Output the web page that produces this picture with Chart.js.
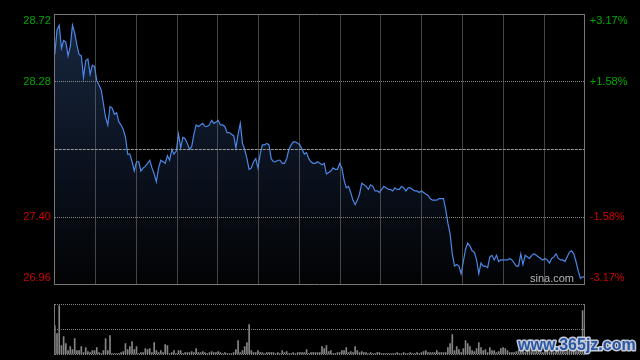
<!DOCTYPE html>
<html>
<head>
<meta charset="utf-8">
<script src="https://cdn.jsdelivr.net/npm/chart.js@4.4.1/dist/chart.umd.min.js"></script>
<style>
html,body{margin:0;padding:0;background:#000;width:640px;height:360px;overflow:hidden}
#wrap{position:relative;width:640px;height:360px}
canvas{position:absolute;left:0;top:0}
</style>
</head>
<body>
<div id="wrap">
<canvas id="price" width="640" height="360"></canvas>
<canvas id="vol" width="640" height="360"></canvas>
</div>
<script>
// ---- data ----
const prevClose = 27.84;
const priceTicks = [26.96, 27.40, 27.84, 28.28, 28.72];
const leftTickLabels = ['26.96', '27.40', '', '28.28', '28.72'];
const rightTickLabels = ['-3.17%', '-1.58%', '', '+1.58%', '+3.17%'];
const volumeTicks = [0, 2500, 5000];

const prices = [
  28.46, 28.62, 28.65, 28.50, 28.55, 28.54, 28.45, 28.51, 28.65, 28.60,
  28.52, 28.46, 28.45, 28.31, 28.42, 28.43, 28.33, 28.39, 28.38, 28.29,
  28.26, 28.23, 28.14, 28.05, 28.00, 28.12, 28.11, 28.07, 28.08, 28.02,
  28.00, 27.97, 27.92, 27.81, 27.81, 27.76, 27.70, 27.76, 27.76, 27.70,
  27.72, 27.73, 27.75, 27.77, 27.72, 27.68, 27.63, 27.72, 27.77, 27.76,
  27.75, 27.80, 27.77, 27.84, 27.81, 27.83, 27.94, 27.85, 27.92, 27.91,
  27.88, 27.84, 27.86, 27.94,
  28.00, 27.99, 28.00, 28.01, 27.99, 27.99,
  28.00, 28.03, 28.01, 28.02, 28.03, 28.00, 28.00, 27.99, 27.95, 27.95,
  27.94, 27.93, 27.85, 27.94, 28.01, 27.88, 27.84, 27.78, 27.71, 27.72,
  27.76, 27.78, 27.72, 27.81, 27.87, 27.87, 27.88, 27.87, 27.78, 27.76,
  27.76, 27.77, 27.77, 27.75, 27.75, 27.78, 27.84, 27.87, 27.89, 27.89,
  27.88, 27.87, 27.84, 27.81, 27.82, 27.78, 27.76, 27.75, 27.75, 27.76,
  27.75, 27.74, 27.75, 27.68, 27.69, 27.70, 27.72, 27.71, 27.71, 27.75,
  27.72, 27.64, 27.59, 27.60, 27.56, 27.51, 27.48, 27.51, 27.55, 27.62,
  27.61, 27.60, 27.58, 27.61, 27.60, 27.57, 27.57, 27.56, 27.58, 27.60,
  27.59, 27.58, 27.58, 27.57, 27.59, 27.58, 27.58, 27.60, 27.59, 27.57,
  27.59, 27.59, 27.58, 27.57, 27.57, 27.56, 27.57, 27.56, 27.55, 27.54,
  27.52, 27.51, 27.51, 27.51, 27.52, 27.52, 27.52, 27.45, 27.36, 27.29,
  27.16, 27.08, 27.09, 27.08, 27.03, 27.11, 27.19, 27.23, 27.21, 27.18,
  27.17, 27.12, 27.03, 27.10, 27.08, 27.08, 27.07, 27.14, 27.15, 27.12,
  27.15, 27.11, 27.12, 27.12, 27.12, 27.12, 27.13, 27.12, 27.10, 27.08,
  27.08, 27.16, 27.09, 27.15, 27.14, 27.13, 27.15, 27.16, 27.15, 27.14,
  27.13, 27.12, 27.13, 27.12, 27.10, 27.13, 27.14, 27.16, 27.13, 27.12,
  27.12, 27.11, 27.14, 27.17, 27.18, 27.16, 27.11, 27.05, 27.00, 27.01, 27.01
];

const volumes = [
  2900, 2100, 4900, 900, 1800, 1100, 400, 800, 500, 1600,
  400, 400, 800, 200, 700, 300, 200, 400, 400, 700,
  200, 100, 400, 1600, 400, 1900, 100, 100, 100, 100,
  200, 300, 1100, 500, 800, 1300, 500, 800, 100, 200,
  200, 600, 500, 600, 200, 1200, 400, 200, 400, 200,
  1000, 900, 100, 200, 400, 100, 400, 400, 100, 200,
  200, 200, 300, 200, 600, 200, 200, 300, 200, 100,
  200, 300, 200, 200, 300, 200, 100, 200, 100, 100,
  100, 200, 500, 1400, 200, 400, 800, 1200, 3000, 400,
  200, 200, 400, 200, 200, 100, 200, 200, 200, 200,
  100, 200, 100, 400, 200, 300, 100, 100, 200, 100,
  200, 200, 200, 200, 500, 100, 200, 200, 200, 200,
  200, 800, 600, 900, 300, 400, 100, 100, 200, 200,
  400, 400, 700, 200, 300, 200, 800, 400, 200, 300,
  200, 200, 100, 200, 100, 100, 200, 200, 100, 100,
  100, 100, 100, 100, 100, 200, 100, 100, 200, 100,
  100, 200, 100, 100, 200, 100, 200, 300, 400, 200,
  200, 200, 200, 400, 200, 200, 200, 200, 700, 1100,
  2000, 400, 800, 500, 200, 600, 1400, 1100, 800, 400,
  300, 600, 1200, 700, 400, 500, 200, 700, 400, 400,
  200, 300, 600, 700, 600, 400, 200, 200, 200, 300,
  400, 300, 500, 200, 400, 600, 300, 200, 500, 400,
  300, 200, 600, 400, 300, 500, 200, 300, 400, 700,
  300, 200, 500, 400, 300, 600, 800, 500, 900, 4400, 3100
];

const minutes = prices.map((_, i) => i);
const lastMinute = minutes.length - 1;
const xDivisions = 13;

// ---- styles ----
const FONT = { family: "'Liberation Sans', Arial, Helvetica, sans-serif", size: 11 };
const GREEN = '#00a800';
const RED = '#d00000';
const GRID = '#858585';
const MIDGRID = '#9a9a9a';
const BORDER = '#777777';
const CLEAR = 'rgba(0,0,0,0)';

const xGridTicks = s => { s.ticks = Array.from({ length: xDivisions + 1 }, (_, i) => ({ value: i * lastMinute / xDivisions })); };
const yPriceTicks = s => { s.ticks = priceTicks.map(v => ({ value: v })); };
const fixWidth = w => s => { s.width = w; s.paddingTop = 0; s.paddingBottom = 0; };
const fixHeight = s => { s.height = 0; s.paddingLeft = 0; s.paddingRight = 0; };

function leftLabel(v, i) {
  if (i === 0) return [leftTickLabels[0], ''];
  if (i === priceTicks.length - 1) return ['', leftTickLabels[i]];
  return leftTickLabels[i];
}
function rightLabel(v, i) {
  if (i === 0) return [rightTickLabels[0], ''];
  if (i === priceTicks.length - 1) return ['', rightTickLabels[i]];
  return rightTickLabels[i];
}
const tickColor = c => (c.tick && c.tick.value > prevClose ? GREEN : RED);

new Chart(document.getElementById('price'), {
  type: 'line',
  data: {
    datasets: [{
      data: minutes.map((m, i) => ({ x: m, y: prices[i] })),
      borderColor: '#4a87e6',
      borderWidth: 1.2,
      pointRadius: 0,
      tension: 0,
      fill: 'start',
      backgroundColor: c => {
        const a = c.chart.chartArea;
        if (!a) return CLEAR;
        const g = c.chart.ctx.createLinearGradient(0, a.top, 0, a.bottom);
        g.addColorStop(0, '#18273f');
        g.addColorStop(0.5, '#0c1422');
        g.addColorStop(1, '#020304');
        return g;
      }
    }]
  },
  options: {
    responsive: false,
    animation: false,
    devicePixelRatio: 1,
    layout: { padding: { top: 14.5, bottom: 75.5, left: 0, right: 0 } },
    plugins: { legend: { display: false }, tooltip: { enabled: false } },
    scales: {
      x: {
        type: 'linear', position: 'bottom', min: 0, max: lastMinute, offset: false,
        afterBuildTicks: xGridTicks,
        ticks: { display: false },
        grid: { z: 1, drawTicks: false, color: c => (c.index === 0 || c.index === xDivisions ? CLEAR : GRID) },
        border: { z: 1, display: true, color: BORDER, dash: [1, 1] },
        afterFit: fixHeight
      },
      xTop: {
        type: 'linear', position: 'top', min: 0, max: lastMinute, offset: false,
        ticks: { display: false },
        grid: { z: 1, display: false },
        border: { z: 1, display: true, color: BORDER },
        afterFit: fixHeight
      },
      y: {
        type: 'linear', position: 'left', min: priceTicks[0], max: priceTicks[priceTicks.length - 1],
        afterBuildTicks: yPriceTicks,
        ticks: { autoSkip: false, callback: leftLabel, color: tickColor, font: FONT, padding: 4 },
        grid: { z: 1, drawTicks: false, color: c => (c.index === 1 || c.index === 3 ? GRID : CLEAR) },
        border: { z: 1, display: true, color: BORDER, dash: [1, 1] },
        afterFit: fixWidth(54.8)
      },
      yRight: {
        type: 'linear', position: 'right', min: priceTicks[0], max: priceTicks[priceTicks.length - 1],
        afterBuildTicks: yPriceTicks,
        ticks: { autoSkip: false, callback: rightLabel, color: tickColor, font: FONT, padding: 5 },
        grid: { z: 1, drawTicks: false, color: c => (c.index === 2 ? MIDGRID : CLEAR) },
        border: { z: 1, display: true, color: BORDER, dash: [3, 1] },
        afterFit: fixWidth(55.2)
      }
    }
  }
});

const textPlugin = {
  id: 'marks',
  afterDraw(chart) {
    const ctx = chart.ctx;
    ctx.save();
    ctx.font = "11px 'Liberation Sans', Arial, sans-serif";
    ctx.fillStyle = '#b4b4b4';
    ctx.textAlign = 'right';
    ctx.textBaseline = 'alphabetic';
    ctx.fillText('sina.com', 574, 282);
    ctx.font = "bold 16px 'Liberation Sans', Arial, sans-serif";
    ctx.textAlign = 'left';
    ctx.lineJoin = 'round';
    ctx.lineWidth = 3;
    ctx.strokeStyle = 'rgba(215,222,235,0.9)';
    ctx.strokeText('www.365jz.com', 518, 350);
    ctx.fillStyle = '#2a56a6';
    ctx.fillText('www.365jz.com', 518, 350);
    ctx.restore();
  }
};

new Chart(document.getElementById('vol'), {
  type: 'bar',
  data: {
    datasets: [{
      data: minutes.map((m, i) => ({ x: m, y: volumes[i] })),
      backgroundColor: '#858585',
      borderWidth: 0,
      barThickness: 1,
      grouped: false
    }]
  },
  options: {
    responsive: false,
    animation: false,
    devicePixelRatio: 1,
    layout: { padding: { top: 304.5, bottom: 5.5, left: 0, right: 0 } },
    plugins: { legend: { display: false }, tooltip: { enabled: false } },
    scales: {
      x: {
        type: 'linear', position: 'bottom', min: 0, max: lastMinute, offset: false,
        ticks: { display: false },
        grid: { display: false, offset: false },
        border: { display: false },
        afterFit: fixHeight
      },
      y: {
        type: 'linear', position: 'left', min: volumeTicks[0], max: volumeTicks[volumeTicks.length - 1],
        afterBuildTicks: s => { s.ticks = volumeTicks.map(v => ({ value: v })); },
        ticks: { display: false },
        grid: { drawTicks: false, color: GRID },
        border: { display: true, color: BORDER, dash: [1, 1] },
        afterFit: fixWidth(54.8)
      },
      yRight: {
        type: 'linear', position: 'right', min: volumeTicks[0], max: volumeTicks[volumeTicks.length - 1],
        ticks: { display: false },
        grid: { display: false },
        border: { display: true, color: BORDER },
        afterFit: fixWidth(55.2)
      }
    }
  },
  plugins: [textPlugin]
});
</script>
</body>
</html>
